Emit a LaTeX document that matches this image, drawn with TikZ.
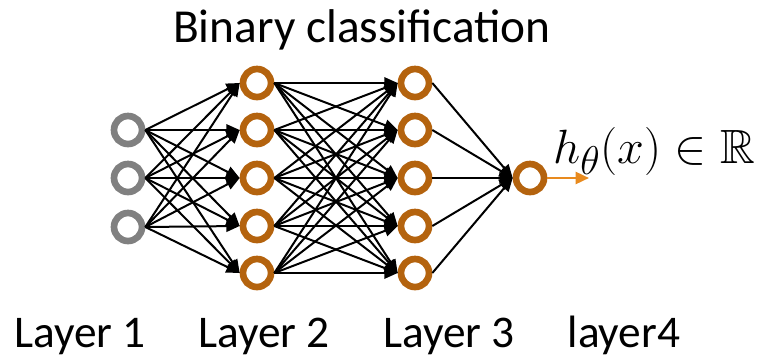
\documentclass[tikz,border=0pt]{standalone}
\usepackage{graphicx}
\usepackage{amssymb}
\usepackage{fontspec}
\setmainfont{Carlito}
\usetikzlibrary{arrows.meta}
\definecolor{unitorange}{RGB}{180,99,14}
\definecolor{unitgray}{RGB}{128,128,128}
\definecolor{outorange}{RGB}{232,138,30}

\begin{document}
\begin{tikzpicture}[
    x=0.75pt, y=-0.75pt,
    % --- Node styles ---
    unit/.style={
      circle, minimum size=21pt, inner sep=0pt,
      line width=5pt, fill=white,
    },
    inunit/.style={unit, draw=unitgray},
    hidunit/.style={unit, draw=unitorange},
    % --- Arrow styles ---
    wire/.style={-{Triangle[length=10pt, width=8.5pt]}, line width=1.5pt, color=black},
    outwire/.style={-{Triangle[length=10pt, width=9pt]}, line width=1.8pt, color=outorange},
    % --- Text styles ---
    layerlbl/.style={font=\fontsize{34}{40}\selectfont, anchor=base},
  ]
    \useasboundingbox (0,0) rectangle (767,357);

    % ===================== UNITS =====================
    \foreach \i/\y in {1/130, 2/178, 3/227}
      \node[inunit] (a\i) at (128,\y) {};
    \foreach \i/\y in {1/83, 2/130, 3/178, 4/226, 5/273}
      \node[hidunit] (b\i) at (257,\y) {};
    \foreach \i/\y in {1/83, 2/130, 3/178, 4/226, 5/273}
      \node[hidunit] (c\i) at (415,\y) {};
    \node[hidunit] (d1) at (530,178) {};

    % ===================== CONNECTIONS =====================
    \foreach \i in {1,...,3}
      \foreach \j in {1,...,5}
        \draw[wire] (a\i.east) -- (b\j.west);
    \foreach \i in {1,...,5}
      \foreach \j in {1,...,5}
        \draw[wire] (b\i.east) -- (c\j.west);
    \foreach \i in {1,...,5}
      \draw[wire] (c\i.east) -- (d1.west);

    % output
    \coordinate (outend) at (589,178);
    \draw[outwire] (d1.east) -- (outend);
    \node[anchor=base west, inner sep=0pt, font=\fontsize{24.88}{30}\selectfont]
      (hyp) at (553,163) {\scalebox{1.45}{$h_\theta(x)\in\mathbb{R}$}};

    % ===================== LABELS =====================
    \node[layerlbl, font=\fontsize{35.5}{42}\selectfont] (title) at (362,42) {Binary classification};
    \node[layerlbl] (l1) at (80,347)  {Layer 1};
    \node[layerlbl] (l2) at (264,347) {Layer 2};
    \node[layerlbl] (l3) at (449,347) {Layer 3};
    \node[layerlbl] (l4) at (624,347) {layer4};

  \end{tikzpicture}
\end{document}
